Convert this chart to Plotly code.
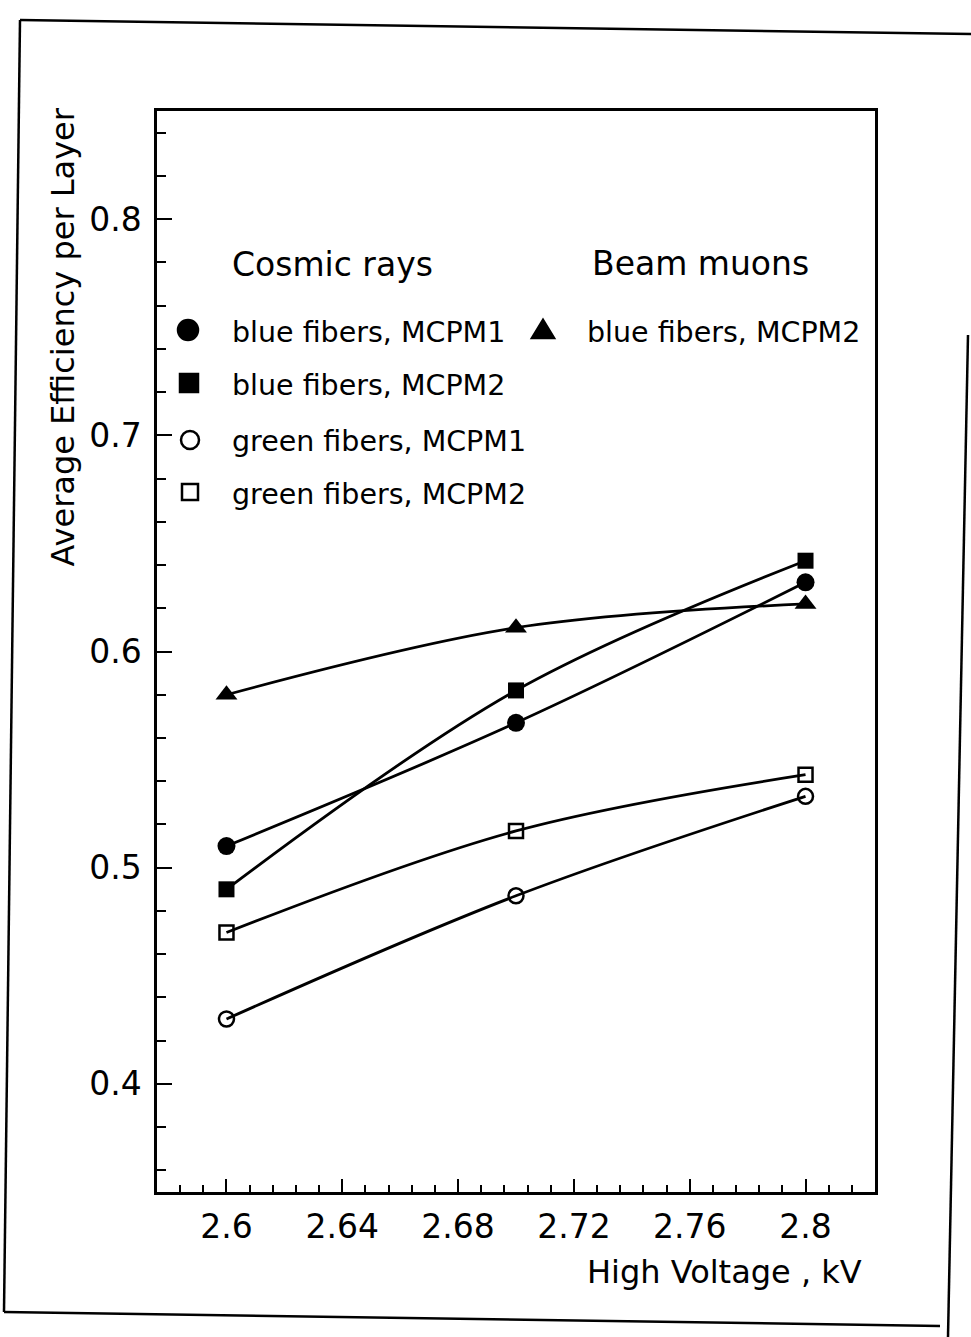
import plotly.graph_objects as go

# High voltage settings (kV)
voltage = [2.6, 2.7, 2.8]

# Average efficiency per layer
cosmic_blue_mcpm1 = [0.51, 0.567, 0.632]
cosmic_blue_mcpm2 = [0.49, 0.582, 0.642]
cosmic_green_mcpm1 = [0.43, 0.487, 0.533]
cosmic_green_mcpm2 = [0.47, 0.517, 0.543]
beam_blue_mcpm2 = [0.58, 0.611, 0.622]

x_range = [2.576, 2.824]
y_range = [0.35, 0.85]

FONT = "DejaVu Sans"
W, H = 971, 1337
L, R, T, B = 157, 96, 111, 145
PW, PH = W - L - R, H - T - B


def px(x):
    return (x - L) / PW


def py(y):
    return (H - B - y) / PH


series = [
    (cosmic_blue_mcpm1, dict(symbol="circle", size=18, color="black")),
    (cosmic_blue_mcpm2, dict(symbol="square", size=16, color="black")),
    (cosmic_green_mcpm1, dict(symbol="circle-open", size=15, color="black",
                              line=dict(width=2.5, color="black"))),
    (cosmic_green_mcpm2, dict(symbol="square-open", size=14, color="black",
                              line=dict(width=2.5, color="black"))),
    (beam_blue_mcpm2, dict(symbol="triangle-up", size=19, color="black")),
]

fig = go.Figure()
for values, marker in series:
    fig.add_trace(go.Scatter(
        x=voltage, y=values, mode="lines+markers",
        line=dict(color="black", width=2.8, shape="spline", smoothing=1.0),
        marker=marker, showlegend=False, cliponaxis=False,
    ))

axis_common = dict(
    showgrid=False, zeroline=False, showline=True, linecolor="black",
    linewidth=2.5, mirror=True, ticks="inside", tickcolor="black",
    tickwidth=2, tickfont=dict(family=FONT, size=33, color="black"),
)

fig.update_xaxes(
    range=x_range, tick0=2.6, dtick=0.04, ticklen=13,
    minor=dict(tick0=2.576, dtick=0.008, ticklen=7, ticks="inside",
               tickcolor="black", tickwidth=2),
    ticklabelstandoff=4, **axis_common,
)
fig.update_yaxes(
    range=y_range, tick0=0.4, dtick=0.1, ticklen=15,
    minor=dict(tick0=0.36, dtick=0.02, ticklen=9, ticks="inside",
               tickcolor="black", tickwidth=2),
    ticklabelstandoff=6, **axis_common,
)

annotations = [
    dict(text="High Voltage , kV", x=px(864), y=py(1272), xanchor="right",
         yanchor="middle", font=dict(size=32)),
    dict(text="Average Efficiency per Layer", x=px(62), y=py(106),
         textangle=-90, xanchor="center", yanchor="top", font=dict(size=32)),
    dict(text="Cosmic rays", x=px(332), y=py(264), xanchor="center",
         yanchor="middle", font=dict(size=33)),
    dict(text="Beam muons", x=px(700), y=py(263), xanchor="center",
         yanchor="middle", font=dict(size=33)),
]

legend_rows = [
    ("blue fibers, MCPM1", 188, 330, 230),
    ("blue fibers, MCPM2", 189, 383, 230),
    ("green fibers, MCPM1", 190, 440, 230),
    ("green fibers, MCPM2", 190, 492, 230),
    ("blue fibers, MCPM2", 543, 330, 585),
]
for text, _, ym, xt in legend_rows:
    annotations.append(dict(text=text, x=px(xt), y=py(ym + 2), xanchor="left",
                            yanchor="middle", font=dict(size=28.5)))

for a in annotations:
    a.update(xref="paper", yref="paper", showarrow=False)
    a["font"].update(family=FONT, color="black")

shapes = []


def key_shape(kind, xk, yk, filled, path=None, half=8):
    s = dict(xref="paper", yref="paper", xsizemode="pixel", ysizemode="pixel",
             xanchor=px(xk), yanchor=py(yk),
             line=dict(color="black", width=2.5),
             fillcolor="black" if filled else "rgba(0,0,0,0)")
    if path:
        s.update(type="path", path=path)
    else:
        s.update(type=kind, x0=-half, x1=half, y0=-half, y1=half)
    return s


shapes.append(key_shape("circle", legend_rows[0][1], legend_rows[0][2], True, half=10))
shapes.append(key_shape("rect", legend_rows[1][1], legend_rows[1][2], True, half=9))
shapes.append(key_shape("circle", legend_rows[2][1], legend_rows[2][2], False, half=9))
shapes.append(key_shape("rect", legend_rows[3][1], legend_rows[3][2], False, half=8))
shapes.append(key_shape(None, legend_rows[4][1], legend_rows[4][2], True,
                        path="M -11,-8 L 11,-8 L 0,10 Z"))

# page border of the figure sheet
for (x0, y0, x1, y1) in [(20, 20, 971, 34), (20, 20, 4, 1312),
                         (4, 1312, 940, 1326), (968, 335, 948, 1337)]:
    shapes.append(dict(type="line", xref="paper", yref="paper",
                       x0=px(x0), y0=py(y0), x1=px(x1), y1=py(y1),
                       line=dict(color="black", width=2.5)))

fig.update_layout(
    width=W, height=H,
    margin=dict(l=L, r=R, t=T, b=B),
    paper_bgcolor="white", plot_bgcolor="white",
    font=dict(family=FONT, color="black"),
    annotations=annotations, shapes=shapes,
)

fig.write_html("out.html")
